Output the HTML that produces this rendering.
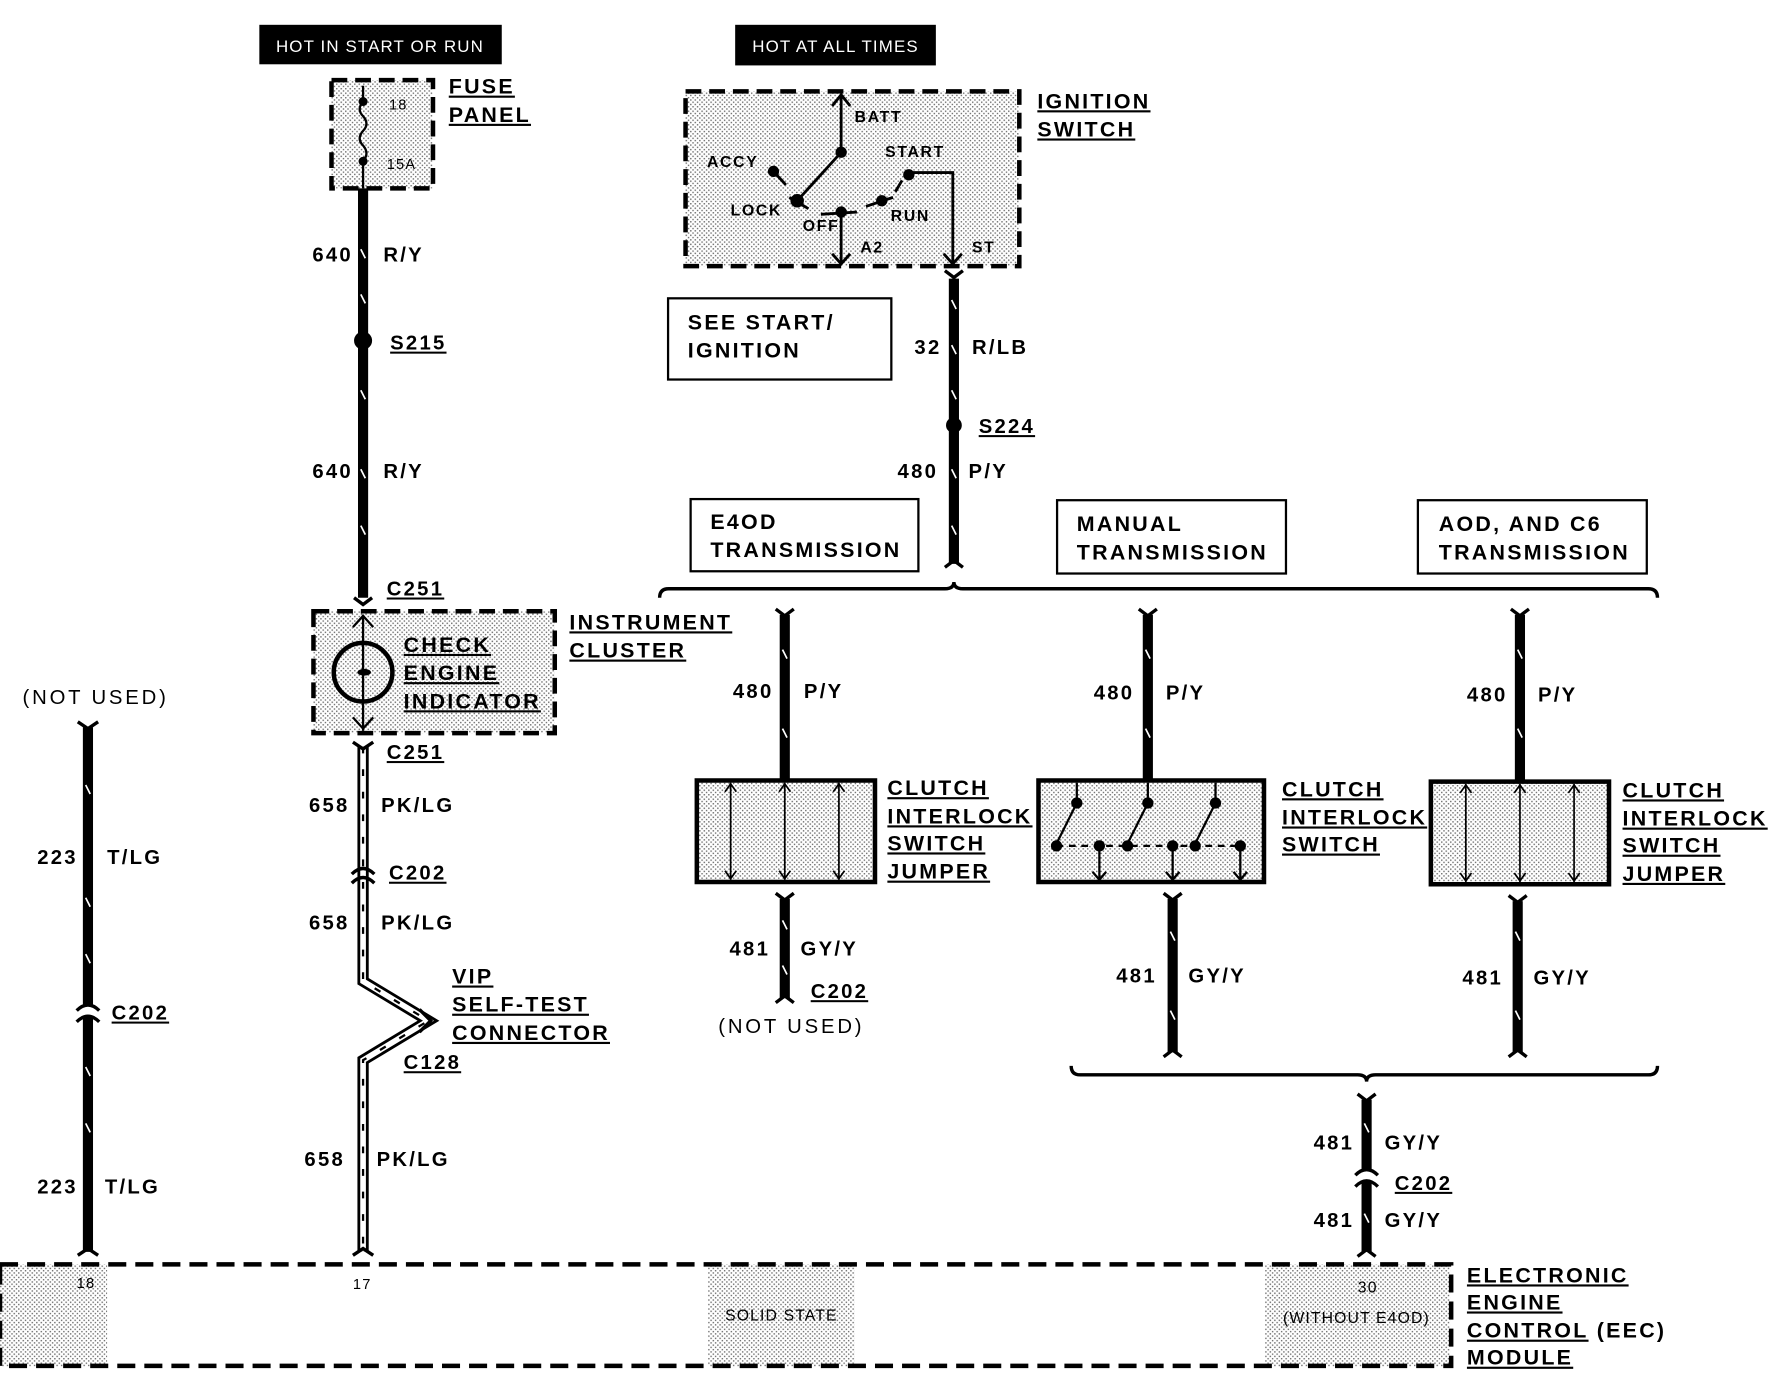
<!DOCTYPE html>
<html><head><meta charset="utf-8">
<style>
html,body{margin:0;padding:0;background:#fff;}
svg{display:block;}
text{font-family:"Liberation Sans",sans-serif;font-weight:bold;fill:#000;letter-spacing:2px;}
</style></head>
<body>
<svg width="1768" height="1376" viewBox="0 0 1568 1220" preserveAspectRatio="none" xmlns="http://www.w3.org/2000/svg">
<defs>
<pattern id="st" width="4" height="4" patternUnits="userSpaceOnUse">
<rect width="4" height="4" fill="#fff"/>
<rect x="0" y="0" width="1.3" height="1.3" fill="#777"/>
<rect x="2" y="2" width="1.3" height="1.3" fill="#777"/>
</pattern>
<g id="tick"><line x1="-2" y1="-4" x2="2" y2="4" stroke="#fff" stroke-width="1.5"/></g>
</defs>
<rect width="1568" height="1220" fill="#fff"/>

<!-- header boxes -->
<rect x="230" y="22" width="215" height="35" fill="#000"/>
<text x="337" y="46" font-size="15" text-anchor="middle" style="fill:#fff;font-weight:normal;letter-spacing:1px">HOT IN START OR RUN</text>
<rect x="652" y="22" width="178" height="36" fill="#000"/>
<text x="741" y="46" font-size="15" text-anchor="middle" style="fill:#fff;font-weight:normal;letter-spacing:1px">HOT AT ALL TIMES</text>

<!-- fuse panel -->
<rect x="294" y="71" width="90" height="96" fill="url(#st)" stroke="#000" stroke-width="4" stroke-dasharray="14,7"/>
<line x1="322" y1="76" x2="322" y2="90" stroke="#000" stroke-width="2"/>
<line x1="322" y1="143" x2="322" y2="167" stroke="#000" stroke-width="2"/>
<circle cx="322" cy="90" r="4"/><circle cx="322" cy="143" r="4"/>
<path d="M322 90 q-6 7 0 13 q6 7 0 13 q-6 7 0 13 q6 7 0 14" fill="none" stroke="#000" stroke-width="2"/>
<text x="345" y="97" font-size="13" style="font-weight:normal;letter-spacing:1px">18</text>
<text x="343" y="150" font-size="13" style="font-weight:normal;letter-spacing:1px">15A</text>
<text x="398" y="83" font-size="19" text-decoration="underline">FUSE</text>
<text x="398" y="108" font-size="19" text-decoration="underline">PANEL</text>

<!-- wire 640 -->
<line x1="322" y1="167" x2="322" y2="530" stroke="#000" stroke-width="9"/>
<g transform="translate(322,225)"><use href="#tick"/></g>
<g transform="translate(322,265)"><use href="#tick"/></g>
<g transform="translate(322,350)"><use href="#tick"/></g>
<g transform="translate(322,420)"><use href="#tick"/></g>
<g transform="translate(322,470)"><use href="#tick"/></g>
<circle cx="322" cy="302" r="8"/>
<text x="277" y="232" font-size="18">640</text><text x="340" y="232" font-size="18">R/Y</text>
<text x="346" y="310" font-size="18" text-decoration="underline">S215</text>
<text x="277" y="424" font-size="18">640</text><text x="340" y="424" font-size="18">R/Y</text>
<text x="343" y="528" font-size="18" text-decoration="underline">C251</text>
<path d="M314 530 l8 6 l8 -6" fill="none" stroke="#000" stroke-width="3"/>

<!-- instrument cluster -->
<rect x="278" y="542" width="214" height="108" fill="url(#st)" stroke="#000" stroke-width="4" stroke-dasharray="14,7"/>
<line x1="322" y1="545" x2="322" y2="648" stroke="#000" stroke-width="2"/>
<path d="M313 556 l9 -10 l9 10 M313 636 l9 10 l9 -10" fill="none" stroke="#000" stroke-width="2"/>
<circle cx="322" cy="596" r="26" fill="none" stroke="#000" stroke-width="4"/>
<ellipse cx="323" cy="596" rx="6" ry="3" fill="#000"/>
<text x="358" y="578" font-size="19" text-decoration="underline">CHECK</text>
<text x="358" y="603" font-size="19" text-decoration="underline">ENGINE</text>
<text x="358" y="628" font-size="19" text-decoration="underline">INDICATOR</text>
<text x="505" y="558" font-size="19" text-decoration="underline">INSTRUMENT</text>
<text x="505" y="583" font-size="19" text-decoration="underline">CLUSTER</text>
<text x="343" y="673" font-size="18" text-decoration="underline">C251</text>

<!-- hatched wire 658 -->
<path d="M322 662 L322 870 L380 905 L322 940 L322 1110" fill="none" stroke="#000" stroke-width="10"/>
<path d="M322 662 L322 870 L380 905 L322 940 L322 1110" fill="none" stroke="#fff" stroke-width="5"/>
<path d="M322 662 L322 870 L380 905 L322 940 L322 1110" fill="none" stroke="#000" stroke-width="2" stroke-dasharray="6,14"/>
<path d="M313 658 l9 6 l9 -6" fill="none" stroke="#000" stroke-width="3"/>
<path d="M312 775 q10 -10 20 0 M312 783 q10 -10 20 0" fill="none" stroke="#000" stroke-width="3"/>
<path d="M372 895 l10 10 l-10 10" fill="none" stroke="#000" stroke-width="3"/>
<path d="M313 1113 l9 -6 l9 6" fill="none" stroke="#000" stroke-width="3"/>
<text x="274" y="720" font-size="18">658</text><text x="338" y="720" font-size="18">PK/LG</text>
<text x="345" y="780" font-size="18" text-decoration="underline">C202</text>
<text x="274" y="824" font-size="18">658</text><text x="338" y="824" font-size="18">PK/LG</text>
<text x="401" y="872" font-size="19" text-decoration="underline">VIP</text>
<text x="401" y="897" font-size="19" text-decoration="underline">SELF-TEST</text>
<text x="401" y="922" font-size="19" text-decoration="underline">CONNECTOR</text>
<text x="358" y="948" font-size="18" text-decoration="underline">C128</text>
<text x="270" y="1034" font-size="18">658</text><text x="334" y="1034" font-size="18">PK/LG</text>

<!-- left wire 223 -->
<text x="20" y="624" font-size="18" style="font-weight:normal;letter-spacing:2.5px">(NOT USED)</text>
<line x1="78" y1="645" x2="78" y2="1110" stroke="#000" stroke-width="9"/>
<path d="M69 640 l9 6 l9 -6" fill="none" stroke="#000" stroke-width="3"/>
<g transform="translate(78,700)"><use href="#tick"/></g>
<g transform="translate(78,800)"><use href="#tick"/></g>
<g transform="translate(78,850)"><use href="#tick"/></g>
<g transform="translate(78,950)"><use href="#tick"/></g>
<g transform="translate(78,1000)"><use href="#tick"/></g>
<rect x="70" y="892" width="16" height="10" fill="#fff"/>
<path d="M68 896 q10 -10 20 0 M68 906 q10 -10 20 0" fill="none" stroke="#000" stroke-width="3"/>
<text x="33" y="766" font-size="18">223</text><text x="95" y="766" font-size="18">T/LG</text>
<text x="99" y="904" font-size="18" text-decoration="underline">C202</text>
<text x="33" y="1058" font-size="18">223</text><text x="93" y="1058" font-size="18">T/LG</text>
<path d="M69 1113 l9 -6 l9 6" fill="none" stroke="#000" stroke-width="3"/>

<!-- EEC module -->
<rect x="0" y="1121" width="1288" height="91" fill="#fff"/>
<rect x="0" y="1121" width="95" height="91" fill="url(#st)"/>
<rect x="628" y="1121" width="130" height="91" fill="url(#st)"/>
<rect x="1122" y="1121" width="164" height="91" fill="url(#st)"/>
<rect x="0" y="1121" width="1287" height="90" fill="none" stroke="#000" stroke-width="4" stroke-dasharray="16,8"/>
<text x="68" y="1142" font-size="13" style="font-weight:normal;letter-spacing:1px">18</text>
<text x="313" y="1143" font-size="13" style="font-weight:normal;letter-spacing:1px">17</text>
<text x="693" y="1171" font-size="14" text-anchor="middle" style="font-weight:normal;letter-spacing:1px">SOLID STATE</text>
<text x="1213" y="1146" font-size="14" text-anchor="middle" style="font-weight:normal;letter-spacing:1px">30</text>
<text x="1203" y="1173" font-size="14" text-anchor="middle" style="font-weight:normal;letter-spacing:1px">(WITHOUT E4OD)</text>
<text x="1301" y="1137" font-size="19" text-decoration="underline">ELECTRONIC</text>
<text x="1301" y="1161" font-size="19" text-decoration="underline">ENGINE</text>
<text x="1301" y="1186" font-size="19"><tspan text-decoration="underline">CONTROL</tspan> (EEC)</text>
<text x="1301" y="1210" font-size="19" text-decoration="underline">MODULE</text>

<!-- ignition switch -->
<rect x="608" y="81" width="296" height="155" fill="url(#st)" stroke="#000" stroke-width="4" stroke-dasharray="14,7"/>
<g stroke="#000" stroke-width="2.5" fill="none">
<line x1="746" y1="84" x2="746" y2="135"/>
<path d="M738 94 l8 -10 l8 10"/>
<line x1="746" y1="135" x2="707" y2="178"/>
<line x1="686" y1="152" x2="697" y2="164"/>
<line x1="700" y1="175" x2="717" y2="185"/>
<line x1="728" y1="190" x2="760" y2="188"/>
<line x1="746" y1="188" x2="746" y2="233"/>
<path d="M738 225 l8 9 l8 -9"/>
<line x1="768" y1="183" x2="792" y2="175"/>
<line x1="800" y1="160" x2="794" y2="170"/>
<polyline points="806,153 845,153 845,233"/>
<path d="M837 225 l8 9 l8 -9"/>
</g>
<circle cx="746" cy="135" r="5"/><circle cx="686" cy="152" r="5"/><circle cx="707" cy="178" r="6"/>
<circle cx="746" cy="188" r="5"/><circle cx="782" cy="178" r="5"/><circle cx="806" cy="155" r="5"/>
<g font-size="14" style="font-weight:normal">
<text x="758" y="108" style="letter-spacing:1.5px">BATT</text><text x="785" y="139" style="letter-spacing:1.5px">START</text><text x="627" y="148" style="letter-spacing:1.5px">ACCY</text>
<text x="648" y="191" style="letter-spacing:1.5px">LOCK</text><text x="712" y="205" style="letter-spacing:1.5px">OFF</text><text x="790" y="196" style="letter-spacing:1.5px">RUN</text>
<text x="763" y="224" style="letter-spacing:1.5px">A2</text><text x="862" y="224" style="letter-spacing:1.5px">ST</text></g>
<text x="920" y="96" font-size="19" text-decoration="underline">IGNITION</text>
<text x="920" y="121" font-size="19" text-decoration="underline">SWITCH</text>

<!-- see start box -->
<rect x="592.5" y="264.5" width="198" height="72" fill="#fff" stroke="#000" stroke-width="2"/>
<text x="610" y="292" font-size="19">SEE START/</text>
<text x="610" y="317" font-size="19">IGNITION</text>

<!-- wire 32/480 -->
<path d="M838 240 l8 6 l8 -6" fill="none" stroke="#000" stroke-width="3"/>
<line x1="846" y1="247" x2="846" y2="500" stroke="#000" stroke-width="9"/>
<g transform="translate(846,270)"><use href="#tick"/></g>
<g transform="translate(846,310)"><use href="#tick"/></g>
<g transform="translate(846,350)"><use href="#tick"/></g>
<g transform="translate(846,420)"><use href="#tick"/></g>
<g transform="translate(846,470)"><use href="#tick"/></g>
<circle cx="846" cy="377" r="7"/>
<path d="M838 503 l8 -6 l8 6" fill="none" stroke="#000" stroke-width="3"/>
<text x="811" y="314" font-size="18">32</text><text x="862" y="314" font-size="18">R/LB</text>
<text x="868" y="384" font-size="18" text-decoration="underline">S224</text>
<text x="796" y="424" font-size="18">480</text><text x="859" y="424" font-size="18">P/Y</text>

<!-- transmission boxes -->
<g fill="#fff" stroke="#000" stroke-width="2">
<rect x="612.5" y="442.5" width="202" height="64"/>
<rect x="937.5" y="443.5" width="203" height="65"/>
<rect x="1257.5" y="443.5" width="203" height="65"/>
</g>
<text x="630" y="469" font-size="19">E4OD</text><text x="630" y="494" font-size="19">TRANSMISSION</text>
<text x="955" y="471" font-size="19">MANUAL</text><text x="955" y="496" font-size="19">TRANSMISSION</text>
<text x="1276" y="471" font-size="19">AOD, AND C6</text><text x="1276" y="496" font-size="19">TRANSMISSION</text>

<!-- bracket top -->
<path d="M585 530 q0 -8 8 -8 L838 522 q8 0 8 -6 q0 6 8 6 L1462 522 q8 0 8 8" fill="none" stroke="#000" stroke-width="3"/>

<!-- three 480 wires -->
<g stroke="#000" stroke-width="9">
<line x1="696" y1="545" x2="696" y2="692"/>
<line x1="1018" y1="545" x2="1018" y2="692"/>
<line x1="1348" y1="545" x2="1348" y2="692"/>
</g>
<g fill="none" stroke="#000" stroke-width="3">
<path d="M688 540 l8 6 l8 -6"/><path d="M1010 540 l8 6 l8 -6"/><path d="M1340 540 l8 6 l8 -6"/>
</g>
<g transform="translate(696,580)"><use href="#tick"/></g><g transform="translate(696,650)"><use href="#tick"/></g>
<g transform="translate(1018,580)"><use href="#tick"/></g><g transform="translate(1018,650)"><use href="#tick"/></g>
<g transform="translate(1348,580)"><use href="#tick"/></g><g transform="translate(1348,650)"><use href="#tick"/></g>
<text x="650" y="619" font-size="18">480</text><text x="713" y="619" font-size="18">P/Y</text>
<text x="970" y="620" font-size="18">480</text><text x="1034" y="620" font-size="18">P/Y</text>
<text x="1301" y="622" font-size="18">480</text><text x="1364" y="622" font-size="18">P/Y</text>

<!-- jumper box 1 -->
<rect x="618" y="692" width="158" height="90" fill="url(#st)" stroke="#000" stroke-width="4"/>
<g stroke="#000" stroke-width="1.5" fill="none">
<line x1="648" y1="694" x2="648" y2="780"/><line x1="696" y1="694" x2="696" y2="780"/><line x1="744" y1="694" x2="744" y2="780"/>
<path d="M643 702 l5 -7 l5 7 M643 772 l5 7 l5 -7 M691 702 l5 -7 l5 7 M691 772 l5 7 l5 -7 M739 702 l5 -7 l5 7 M739 772 l5 7 l5 -7"/>
</g>
<!-- jumper box 3 -->
<rect x="1269" y="693" width="158" height="91" fill="url(#st)" stroke="#000" stroke-width="4"/>
<g stroke="#000" stroke-width="1.5" fill="none">
<line x1="1300" y1="695" x2="1300" y2="782"/><line x1="1348" y1="695" x2="1348" y2="782"/><line x1="1396" y1="695" x2="1396" y2="782"/>
<path d="M1295 703 l5 -7 l5 7 M1295 774 l5 7 l5 -7 M1343 703 l5 -7 l5 7 M1343 774 l5 7 l5 -7 M1391 703 l5 -7 l5 7 M1391 774 l5 7 l5 -7"/>
</g>
<!-- switch box 2 -->
<rect x="921" y="692" width="200" height="90" fill="url(#st)" stroke="#000" stroke-width="4"/>
<g stroke="#000" stroke-width="2" fill="none">
<line x1="955" y1="694" x2="955" y2="712"/><line x1="955" y1="712" x2="937" y2="748"/>
<line x1="1018" y1="694" x2="1018" y2="712"/><line x1="1018" y1="712" x2="1000" y2="748"/>
<line x1="1078" y1="694" x2="1078" y2="712"/><line x1="1078" y1="712" x2="1060" y2="748"/>
<line x1="937" y1="750" x2="1100" y2="750" stroke-dasharray="6,5"/>
<line x1="975" y1="750" x2="975" y2="780"/><line x1="1040" y1="750" x2="1040" y2="780"/><line x1="1100" y1="750" x2="1100" y2="780"/>
<path d="M969 773 l6 7 l6 -7 M1034 773 l6 7 l6 -7 M1094 773 l6 7 l6 -7"/>
</g>
<g><circle cx="955" cy="712" r="5"/><circle cx="1018" cy="712" r="5"/><circle cx="1078" cy="712" r="5"/>
<circle cx="937" cy="750" r="5"/><circle cx="1000" cy="750" r="5"/><circle cx="1060" cy="750" r="5"/>
<circle cx="975" cy="750" r="5"/><circle cx="1040" cy="750" r="5"/><circle cx="1100" cy="750" r="5"/></g>

<g font-size="19">
<text x="787" y="705" text-decoration="underline">CLUTCH</text><text x="787" y="730" text-decoration="underline">INTERLOCK</text>
<text x="787" y="754" text-decoration="underline">SWITCH</text><text x="787" y="779" text-decoration="underline">JUMPER</text>
<text x="1137" y="706" text-decoration="underline">CLUTCH</text><text x="1137" y="731" text-decoration="underline">INTERLOCK</text>
<text x="1137" y="755" text-decoration="underline">SWITCH</text>
<text x="1439" y="707" text-decoration="underline">CLUTCH</text><text x="1439" y="732" text-decoration="underline">INTERLOCK</text>
<text x="1439" y="756" text-decoration="underline">SWITCH</text><text x="1439" y="781" text-decoration="underline">JUMPER</text>
</g>

<!-- lower wires -->
<g stroke="#000" stroke-width="9">
<line x1="696" y1="797" x2="696" y2="885"/>
<line x1="1040" y1="797" x2="1040" y2="933"/>
<line x1="1346" y1="799" x2="1346" y2="933"/>
</g>
<g fill="none" stroke="#000" stroke-width="3">
<path d="M688 792 l8 6 l8 -6"/><path d="M1032 792 l8 6 l8 -6"/><path d="M1338 794 l8 6 l8 -6"/>
<path d="M688 889 l8 -6 l8 6"/><path d="M1032 937 l8 -6 l8 6"/><path d="M1338 937 l8 -6 l8 6"/>
</g>
<g transform="translate(696,820)"><use href="#tick"/></g><g transform="translate(696,860)"><use href="#tick"/></g>
<g transform="translate(1040,830)"><use href="#tick"/></g><g transform="translate(1040,900)"><use href="#tick"/></g>
<g transform="translate(1346,830)"><use href="#tick"/></g><g transform="translate(1346,900)"><use href="#tick"/></g>
<text x="647" y="847" font-size="18">481</text><text x="710" y="847" font-size="18">GY/Y</text>
<text x="719" y="885" font-size="18" text-decoration="underline">C202</text>
<text x="637" y="916" font-size="18" style="font-weight:normal;letter-spacing:2.5px">(NOT USED)</text>
<text x="990" y="871" font-size="18">481</text><text x="1054" y="871" font-size="18">GY/Y</text>
<text x="1297" y="873" font-size="18">481</text><text x="1360" y="873" font-size="18">GY/Y</text>

<!-- bracket bottom -->
<path d="M950 945 q0 8 8 8 L1204 953 q8 0 8 6 q0 -6 8 -6 L1462 953 q8 0 8 -8" fill="none" stroke="#000" stroke-width="3"/>

<!-- wire to EEC -->
<line x1="1212" y1="975" x2="1212" y2="1110" stroke="#000" stroke-width="9"/>
<path d="M1204 970 l8 6 l8 -6" fill="none" stroke="#000" stroke-width="3"/>
<g transform="translate(1212,1000)"><use href="#tick"/></g><g transform="translate(1212,1080)"><use href="#tick"/></g>
<rect x="1204" y="1038" width="16" height="10" fill="#fff"/>
<path d="M1202 1042 q10 -10 20 0 M1202 1052 q10 -10 20 0" fill="none" stroke="#000" stroke-width="3"/>
<path d="M1204 1114 l8 -6 l8 6" fill="none" stroke="#000" stroke-width="3"/>
<text x="1165" y="1019" font-size="18">481</text><text x="1228" y="1019" font-size="18">GY/Y</text>
<text x="1237" y="1055" font-size="18" text-decoration="underline">C202</text>
<text x="1165" y="1088" font-size="18">481</text><text x="1228" y="1088" font-size="18">GY/Y</text>
</svg>
</body></html>
